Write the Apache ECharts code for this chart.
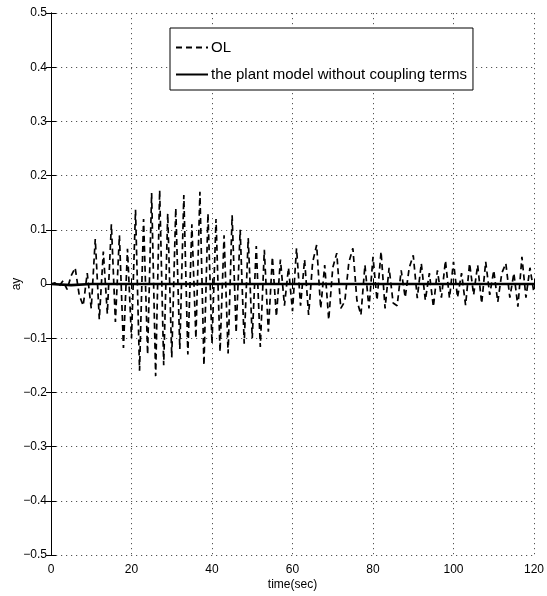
<!DOCTYPE html>
<html>
<head>
<meta charset="utf-8">
<script src="https://cdn.jsdelivr.net/npm/echarts@6/dist/echarts.min.js"></script>
<style>
html,body{margin:0;padding:0;background:#fff;}
#chart{width:547px;height:596px;}
</style>
</head>
<body>
<div id="chart"></div>
<script>
// ---- data ----
const xTickLabels = ['0', '20', '40', '60', '80', '100', '120'];
const yTickLabels = ['\u22120.5', '\u22120.4', '\u22120.3', '\u22120.2', '\u22120.1', '0', '0.1', '0.2', '0.3', '0.4', '0.5'];
const seriesNames = ['OL', 'the plant model without coupling terms'];

// OL response, sampled every 1 s from t = 0 to t = 120
const olStep = 1;
const olValues = [
  0, 0.002, -0.004, 0.006, -0.01, 0.015, 0.03, -0.02, -0.04, 0.02,
  -0.045, 0.083, -0.065, 0.06, -0.055, 0.11, -0.07, 0.09, -0.118, 0.065,
  -0.1, 0.137, -0.16, 0.12, -0.13, 0.168, -0.17, 0.173, -0.15, 0.13,
  -0.135, 0.14, -0.12, 0.164, -0.13, 0.11, -0.1, 0.17, -0.15, 0.13,
  -0.11, 0.12, -0.125, 0.09, -0.128, 0.127, -0.09, 0.1, -0.11, 0.085,
  -0.1, 0.07, -0.116, 0.063, -0.088, 0.05, -0.06, 0.045, -0.04, 0.03,
  -0.05, 0.066, -0.04, 0.045, -0.057, 0.04, 0.072, -0.045, 0.035, -0.066,
  0.03, 0.057, -0.045, -0.032, 0.04, 0.066, -0.03, -0.057, 0.035, -0.045,
  0.05, -0.03, 0.06, -0.045, 0.03, -0.035, -0.04, 0.025, -0.025, 0.03,
  0.053, -0.026, 0.038, -0.03, 0.02, -0.042, 0.025, -0.025, 0.043, -0.026,
  0.041, -0.025, 0.02, -0.039, 0.038, -0.02, 0.035, -0.036, 0.041, -0.02,
  0.025, -0.033, 0.02, 0.038, -0.025, 0.02, -0.042, 0.05, -0.025, 0.03,
  -0.017
];

// plant model without coupling terms, sampled every 5 s from t = 0 to t = 120
const plantStep = 5;
const plantValues = [
  0, -0.002, 0, 0, 0, 0, 0, 0, 0, 0, 0, 0, 0,
  0, 0, 0, 0, 0, 0, 0, 0, 0, 0, 0, 0
];

// ---- chart ----
const olData = olValues.map((v, i) => [i * olStep, v]);
const plantData = plantValues.map((v, i) => [i * plantStep, v]);

const FONT = "'Liberation Sans Narrow', 'Arial Narrow', 'Liberation Sans', Arial, sans-serif";
const LEG_FONT = "'Liberation Sans', Arial, sans-serif";

function xLabel(v) { return xTickLabels[Math.round(v / 20)]; }
function yLabel(v) { return yTickLabels[Math.round((v + 0.5) * 10)]; }

const gridLine = { show: true, lineStyle: { color: '#555', width: 1, type: [1.2, 3.8] } };
const axLine = { show: true, lineStyle: { color: '#000', width: 1 } };
const tick = { show: true, inside: true, length: 5, lineStyle: { color: '#000', width: 1 } };

const chart = echarts.init(document.getElementById('chart'), null, { renderer: 'canvas' });
chart.setOption({
  animation: false,
  backgroundColor: '#fff',
  grid: { left: 51, right: 13, top: 13, bottom: 41, containLabel: false, outerBoundsMode: 'none' },
  legend: {
    data: seriesNames,
    orient: 'vertical',
    left: 170,
    top: 28,
    padding: [12, 6, 8, 5],
    itemWidth: 32,
    itemHeight: 14,
    itemGap: 12,
    backgroundColor: '#fff',
    borderColor: '#000',
    borderWidth: 1,
    borderRadius: 0,
    itemStyle: { opacity: 0 },
    textStyle: { fontFamily: LEG_FONT, fontSize: 15, color: '#000', padding: [0, 0, 0, -2], lineHeight: 14 }
  },
  xAxis: [
    {
      type: 'value', min: 0, max: 120, interval: 20,
      name: 'time(sec)', nameLocation: 'middle', nameGap: 24, nameMoveOverlap: false,
      nameTextStyle: { fontFamily: FONT, fontSize: 12, color: '#000' },
      axisLine: axLine, axisTick: tick,
      axisLabel: { formatter: xLabel, fontFamily: FONT, fontSize: 12, color: '#000', margin: 9 },
      splitLine: gridLine
    },
    {
      type: 'value', min: 0, max: 120, interval: 20, position: 'top',
      axisLine: axLine, axisTick: tick, axisLabel: { show: false }, splitLine: { show: false }
    }
  ],
  yAxis: [
    {
      type: 'value', min: -0.5, max: 0.5, interval: 0.1,
      name: 'ay', nameLocation: 'middle', nameGap: 28, nameRotate: 90, nameMoveOverlap: false,
      nameTextStyle: { fontFamily: FONT, fontSize: 12, color: '#000' },
      axisLine: axLine, axisTick: tick,
      axisLabel: { formatter: yLabel, fontFamily: FONT, fontSize: 12, color: '#000', margin: 4 },
      splitLine: gridLine
    },
    {
      type: 'value', min: -0.5, max: 0.5, interval: 0.1, position: 'right',
      axisLine: axLine, axisTick: tick, axisLabel: { show: false }, splitLine: { show: false }
    }
  ],
  series: [
    {
      name: seriesNames[0], type: 'line', data: olData,
      xAxisIndex: 0, yAxisIndex: 0,
      symbol: 'none', showSymbol: false,
      lineStyle: { color: '#000', width: 1.7, type: [6, 4] },
      itemStyle: { color: '#000' },
      z: 2
    },
    {
      name: seriesNames[1], type: 'line', data: plantData,
      xAxisIndex: 0, yAxisIndex: 0,
      symbol: 'none', showSymbol: false,
      lineStyle: { color: '#000', width: 2.6, type: 'solid' },
      itemStyle: { color: '#000' },
      z: 3
    }
  ]
});
</script>
</body>
</html>
